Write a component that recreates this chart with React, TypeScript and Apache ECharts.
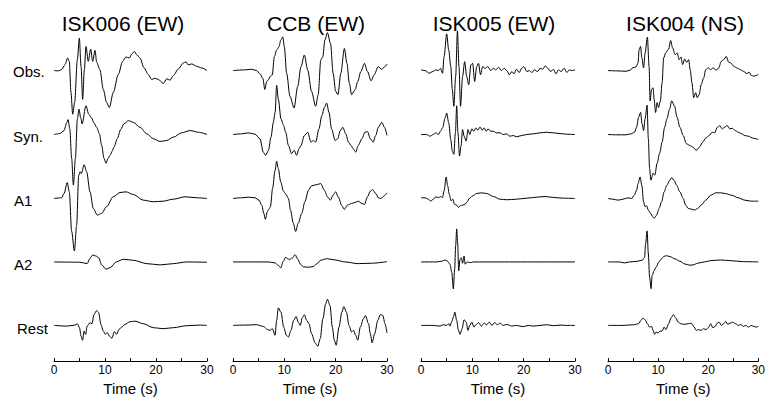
import React, { useEffect, useRef } from "react";
import * as echarts from "echarts";

const stations = ["ISK006 (EW)", "CCB (EW)", "ISK005 (EW)", "ISK004 (NS)"];
const rowLabels = ["Obs.", "Syn.", "A1", "A2", "Rest"];
const timeTicks = [0, 10, 20, 30];
const xLabel = "Time (s)";

// [time (s), amplitude] pairs
const isk006Obs = [[0,0],[0.85,-0.3],[1.5,1],[2.16,6],[2.68,12.7],[3.0,9.3],[3.33,-22],[3.66,-44],[4.05,-32],[4.58,11],[4.97,32.7],[5.3,4.3],[5.62,-29],[5.95,1],[6.27,24.3],[6.73,9.3],[7.19,21.7],[7.58,9.3],[8.04,20.3],[8.37,8.3],[9.0,1],[9.67,-19],[10.3,-32],[10.85,-37.3],[11.63,-22],[12.6,-4],[13.46,9.3],[14.1,13.7],[14.77,12.7],[15.3,17],[15.75,19.3],[16.2,16],[16.86,12.7],[17.65,2.7],[18.5,-4],[19.15,-9],[19.8,-7.7],[20.46,-9],[21.44,-13],[22.1,-8.3],[22.75,-9.7],[23.4,-5],[24.4,1.7],[25.36,7.7],[25.9,8.7],[26.3,5.7],[27.0,6.7],[27.97,4.3],[28.95,2.7],[30,0]];
const isk006Syn = [[0,0],[1.2,1],[1.96,4],[2.5,12],[2.75,15],[3.1,5.7],[3.46,-24],[3.8,-51],[4.2,-24],[4.58,15.7],[4.9,25.7],[5.23,17],[5.5,10.7],[6.27,29],[6.8,20.7],[7.3,17.3],[7.84,11.7],[8.37,7.3],[8.9,0.7],[9.35,-11],[9.8,-24],[10.2,-29],[10.6,-24],[11.0,-21],[11.37,-17],[11.76,-12.7],[12.4,-4.3],[13.07,5],[13.7,10.7],[14.6,14],[15.56,12.3],[16.86,7.3],[18.2,0.7],[19.5,-4.3],[20.8,-7],[22.1,-6],[23.4,-2.7],[25.0,1.7],[26.7,4],[28.3,2.3],[30,0]];
const isk006A1 = [[0,0],[1.5,0.7],[1.96,5],[2.6,16],[3.0,6.7],[3.46,-33],[4.0,-53],[4.44,-27],[4.84,23],[5.1,27],[5.36,25],[5.9,34],[6.4,27],[7.06,6.7],[7.7,-10],[8.5,-16.7],[9.35,-15],[10.3,-8.3],[11.6,1.7],[12.94,6],[14.1,6.7],[15.56,4],[17.5,-1.7],[19.5,-3.3],[21.4,-2.7],[23.4,-0.7],[25.7,1.7],[28,0.7],[30,0]];
const isk006A2 = [[0,0],[5.1,-0.3],[6.5,-1.7],[7.06,3.7],[7.58,7],[8.2,6],[8.76,4.3],[9.35,-3],[10.2,-7.3],[11.0,-5.7],[12.3,0.3],[13.6,2.7],[15.56,1.7],[18.2,-1.7],[20.8,-3],[23.4,-1.7],[26,0],[30,-0.3]];
const isk006Rest = [[0,0],[2.5,-0.7],[4.1,0.3],[4.6,1.7],[5.0,-2.3],[5.3,-10.7],[5.6,-15],[5.9,-5.7],[6.2,-9],[6.5,-0.7],[7.06,2.7],[7.45,1.7],[7.84,11],[8.37,15],[8.76,12.7],[9.2,1],[9.67,-5.7],[10.07,-9],[10.46,-7.3],[10.85,-10.7],[11.37,-13],[11.83,-6.3],[12.3,-9],[12.75,-4],[13.27,-1.7],[13.9,1],[14.9,3.7],[15.9,4.3],[17.5,1.7],[19.5,-2.3],[21.4,-3.3],[23.4,-2.3],[26,-0.3],[28.6,0.3],[30,0]];

const ccbObs = [[0,0],[2.3,0.7],[3.6,1.3],[4.6,0],[5.26,-3.3],[5.8,-7.7],[6.2,-19],[6.56,-11],[6.9,-9.3],[7.2,-6],[7.66,-4.3],[8.05,14],[8.5,20.7],[8.96,24],[9.3,30.7],[9.7,34],[10,24],[10.45,-2.7],[11.1,-26],[11.9,-37.7],[12.6,-16],[13.25,4],[13.9,15.7],[14.55,0.7],[15.3,-21],[16.1,-36],[16.6,-24.3],[17.1,10.7],[17.5,14],[17.9,30.7],[18.4,38.3],[19.0,27.3],[19.5,-2.7],[20,-21],[20.45,-24.3],[21.0,-2.7],[21.7,22.3],[22.2,7.3],[22.66,-12.7],[23.1,-24.3],[23.8,-19.3],[24.3,-11],[24.9,-1],[25.6,7.3],[26.2,-1],[26.9,-10.3],[27.5,-4.3],[28.3,4],[28.96,1.3],[29.6,4],[30,6.7]];
const ccbSyn = [[0,0],[1.7,0.7],[3,1.7],[4.3,0.3],[5.26,-4.3],[5.9,-17.7],[6.36,-21],[6.9,-16],[7.4,-2.7],[7.86,12.3],[8.2,22.3],[8.5,49.7],[8.83,35.7],[9.35,15.7],[9.87,9],[10.26,2.3],[10.8,-11],[11.4,-19.3],[11.95,-16],[12.4,-21],[12.86,-14.3],[13.25,-11],[13.9,-1],[14.55,2.3],[15.2,-7.7],[15.65,-6],[16.1,-7.7],[16.75,5.7],[17.3,19],[17.8,27.3],[18.25,31.7],[18.7,22.3],[19.2,5.7],[19.9,-6],[20.4,-4.3],[20.9,4],[21.4,7.3],[21.95,0.7],[22.5,-7.7],[23,-11],[23.4,-14.3],[23.9,-17.7],[24.4,-11],[25.1,-4.3],[25.7,2.3],[26.2,3],[26.75,-4.3],[27.3,-7.7],[27.8,-1],[28.3,7.3],[29,12.3],[29.5,7.3],[30,-1]];
const ccbA1 = [[0,0],[1.7,0.7],[3,1.3],[4.3,0.7],[5.06,-1.7],[5.6,-6.7],[6,-15],[6.3,-21],[6.7,-13.3],[7.0,-10.7],[7.3,-8.3],[7.7,10],[8.2,28.3],[8.5,37.7],[8.83,30],[9.3,16.7],[9.8,7.7],[10.3,4.3],[10.8,0],[11.2,-11.7],[11.75,-25],[12.2,-33.3],[12.7,-25],[13.4,-15],[14,-3.3],[14.7,8.3],[15.3,12.7],[16.3,14],[17.1,15],[17.8,8.3],[18.4,1.7],[18.96,-1.7],[19.5,3.3],[20,6.7],[20.5,1.7],[21.2,-7.3],[21.7,-11],[22.3,-6.7],[23.1,-5],[23.8,-4],[24.4,-2.7],[25.1,-5],[25.6,-6],[26.2,1.7],[26.75,7.3],[27.2,9],[27.8,5],[28.3,0.7],[28.8,0],[29.35,2.3],[30,5.7]];
const ccbA2 = [[0,0],[4.3,0],[6.9,0],[8.2,-1],[8.8,-3.3],[9.3,-6],[9.8,0.7],[10.26,4.7],[10.65,3.3],[11.0,2.3],[11.56,4],[12.1,7.3],[12.6,3],[13.1,-2],[13.7,-5],[14.7,-5.3],[15.65,-4.7],[16.3,-2],[17.1,1.7],[18.25,3.3],[19.9,2],[21.8,0],[24.4,-1.7],[27,-1.3],[30,0.3]];
const ccbRest = [[0,0],[2.3,0.3],[4.6,0.7],[5.9,-1],[6.75,-4.3],[7.2,-5],[7.66,-3.3],[8.2,-10],[8.5,5],[8.83,17.7],[9.35,13.3],[9.87,-1.7],[10.4,-10],[10.8,-11.7],[11.3,-5],[11.8,5],[12.3,9],[12.7,3.3],[13.1,0],[13.5,7.7],[13.9,10.7],[14.35,5],[14.8,1.7],[15.3,-8.3],[16,-17.7],[16.5,-21],[17,-13.3],[17.5,6.7],[18.05,21.7],[18.4,26.3],[18.9,20],[19.35,-1.7],[19.74,-15],[20.1,-20],[20.65,-1.7],[21.2,13.3],[21.6,19],[22.1,13.3],[22.6,0],[23.1,-6.7],[23.5,-5],[23.9,-10],[24.3,-15],[24.8,-1.7],[25.4,6.7],[25.8,10],[26.4,1.7],[26.75,-8.3],[27.1,-17.7],[27.6,-8.3],[28.2,5],[28.7,11],[29.2,10],[29.6,1.7],[30,-7.7]];

const isk005Obs = [[0,0.7],[0.8,0],[1.6,-2.7],[2.3,-1],[2.9,0.7],[3.4,0],[3.8,2.3],[4.2,-2.7],[4.5,14],[5,37],[5.4,20.7],[5.8,4],[6.1,-19],[6.4,-36],[6.75,-6],[7.1,40],[7.4,4],[7.7,-36],[8.1,-6],[8.5,9],[8.9,-6],[9.3,-14.3],[9.7,5.7],[10.06,7.3],[10.45,-11],[10.85,4],[11.2,7.3],[11.6,-4.3],[12,4],[12.5,2.3],[13,4],[13.6,0],[14.1,2.3],[14.6,0.7],[15.1,3.3],[15.65,0],[16.2,2.3],[16.7,0],[17.2,-4.3],[17.7,-1],[18.1,-3.3],[18.6,1.3],[19.15,-2],[19.6,2.3],[20.06,4],[20.6,-1],[21.1,0],[21.6,-2],[22.1,0.7],[22.7,-1],[23.2,2.3],[23.7,1.3],[24.2,4.7],[24.7,2.3],[25.3,-1],[25.8,1.3],[26.3,-3.3],[26.8,0.7],[27.3,-1],[27.9,2.3],[28.4,-2],[28.9,0.7],[29.4,0],[30,0.7]];
const isk005Syn = [[0,0],[1.1,0],[1.75,-1.7],[2.4,0],[2.9,1.7],[3.4,0],[3.8,3.3],[4.2,6.7],[4.7,16.7],[5.0,21.7],[5.4,11.7],[5.8,-5],[6.1,-16.7],[6.4,-20],[6.7,1.7],[6.95,29],[7.2,1.7],[7.5,-21.7],[7.8,-11.7],[8.1,5],[8.4,-1.7],[8.8,-6.7],[9.15,5],[9.5,0],[9.9,5.7],[10.3,3.3],[10.7,6.7],[11.1,4.3],[11.5,7.7],[11.9,4.3],[12.3,6.7],[12.7,3.3],[13.05,5.7],[13.6,3.3],[14.1,3.3],[14.7,1.7],[15.4,1.7],[16,0],[16.7,0.7],[17.3,-1.7],[18,-1],[18.6,-2.3],[19.6,-1],[20.6,0],[21.9,0.7],[23.2,1.7],[24.5,2.3],[25.8,1.7],[27.1,1],[28.4,0.3],[30,0]];
const isk005A1 = [[0,0.7],[0.8,0.7],[1.4,-0.7],[1.9,-2.7],[2.4,-0.7],[2.9,1.7],[3.4,0.7],[3.8,2],[4.2,1],[4.5,7.7],[4.9,21.7],[5.2,12.7],[5.5,4.3],[5.85,-2.3],[6.2,-0.7],[6.5,-5.7],[6.95,-6.7],[7.3,-9],[7.7,-7.3],[8.1,-6.7],[8.6,-5.7],[9,-3.3],[9.4,0],[10.1,2.7],[10.8,5],[11.8,5.7],[12.8,5],[14.1,2],[15.4,-0.7],[16.7,-1.3],[18.6,-0.7],[20.6,0.3],[22.5,1.3],[24.2,2],[25.8,1],[27.7,0.3],[30,0]];
const isk005A2 = [[0,0],[3.05,0],[4,0.7],[4.7,2],[5.1,1],[5.65,-2.3],[6,-10.7],[6.3,-27.3],[6.56,-7.3],[6.75,16],[6.95,33.3],[7.14,19.3],[7.34,-9],[7.6,2.7],[7.86,4.3],[8.1,-1.3],[8.4,6],[8.6,-2.3],[9,0],[9.5,-0.7],[10.2,0],[15.4,0],[30,0]];
const isk005Rest = [[0,0],[2.4,0],[3.7,-0.7],[4.35,0.7],[5,0],[5.4,1.7],[5.65,-0.7],[6,4],[6.3,8.3],[6.6,13.3],[6.95,5],[7.3,-5],[7.6,-9],[8,-3.3],[8.4,5.7],[8.8,3.3],[9.15,-5],[9.5,0],[9.9,3.3],[10.3,-1.7],[10.7,0.7],[11.2,2.7],[11.75,-0.7],[12.3,2.3],[12.8,0.7],[13.3,3.3],[13.8,0],[14.35,2.7],[14.9,0.7],[15.4,2.3],[16,0],[16.7,1],[17.7,-0.7],[18.6,0],[19.9,-1.3],[20.9,0],[21.9,-0.7],[23.2,0],[24.5,0.7],[25.8,-0.3],[27.1,0.3],[28.4,0],[30,0]];

const isk004Obs = [[0,0],[1.7,-0.3],[3.6,-0.7],[4.4,0.3],[4.9,2.7],[5.6,3.7],[6,7.7],[6.2,21],[6.5,24.3],[6.75,12.7],[7.1,2.7],[7.4,17.7],[7.86,33.7],[8.2,4.3],[8.4,-30.7],[8.7,-19],[9,-17.3],[9.2,-29],[9.5,-42.3],[9.8,-32.3],[10.1,-37.3],[10.45,-30.7],[10.8,-12.3],[11.1,12.7],[11.56,18.3],[12.1,21.7],[12.5,30.3],[12.9,22.7],[13.4,16],[13.8,17.7],[14.2,11],[14.55,13.7],[14.9,6],[15.3,11.7],[15.7,8.3],[16.1,11],[16.4,1],[16.75,-12.3],[17.1,-27.3],[17.5,-22.3],[17.8,-27.3],[18.2,-24],[18.6,-14],[19.1,-7.3],[19.5,1],[20,2.7],[20.5,1],[21,2.7],[21.6,0.3],[22.1,2.7],[22.6,9.3],[23.1,11],[23.6,14.3],[24.1,8.3],[24.5,7.7],[25.1,4.3],[25.7,2.7],[26.4,1],[27,-0.7],[27.7,-3],[28.2,-1.7],[28.6,-5],[29.1,-5.7],[29.5,-5],[30,-4]];
const isk004Syn = [[0,0],[1.7,-0.3],[3.6,-0.3],[4.6,0.7],[5.3,2.3],[5.7,7.3],[6.1,17.3],[6.5,22.3],[6.8,10.7],[7.1,4],[7.4,15.7],[7.8,29.7],[8.05,-4.3],[8.3,-34.3],[8.55,-46],[9,-39],[9.35,-41],[9.8,-29],[10.3,-19],[10.8,-7.7],[11.3,7.3],[11.75,15.7],[12.3,25.7],[12.7,34],[13.25,29],[13.8,17.3],[14.35,7.3],[15,-1],[15.65,-9.3],[16.3,-11],[16.95,-12.7],[17.6,-16],[18.25,-12.7],[18.9,-7.7],[19.5,-3.7],[20.2,-1],[20.8,2.3],[21.3,1.7],[21.8,7.3],[22.3,9],[22.8,5.7],[23.25,7.3],[23.8,9],[24.3,5.7],[24.8,6.3],[25.4,4],[26,2.3],[26.7,0.7],[27.3,-1],[28,-1.7],[29,-3.7],[30,-5]];
const isk004A1 = [[0,0],[1,-0.7],[2,-1.7],[3,-0.7],[4,0.7],[4.7,0],[5.26,3.3],[5.7,8.3],[6,15],[6.4,21.7],[6.75,13.3],[7.1,-3.3],[7.4,-8.3],[7.7,-7.3],[8.05,-11.7],[8.5,-15],[8.9,-18.3],[9.2,-20],[9.7,-16.7],[10.2,-10],[10.7,-3.3],[11.2,6.7],[11.75,13.3],[12.3,18.3],[12.7,21],[13.2,18.3],[13.7,13.3],[14.35,6.7],[15,0],[15.5,-6.7],[16,-10],[16.6,-10.7],[17.3,-11.7],[17.9,-10],[18.6,-6.7],[19.5,-1.7],[20.5,3.3],[21.5,5.7],[22.5,5.7],[23.4,5],[24.7,3.3],[26,0.7],[27.3,-1.7],[28.6,-2.7],[30,-2.7]];
const isk004A2 = [[0,0],[2.3,0],[3.3,-1],[4.3,0],[5.9,0.7],[6.9,2],[7.3,4.7],[7.5,18],[7.8,31.3],[8.05,8],[8.3,-15.3],[8.6,-27],[8.8,-13.7],[9.2,-8.7],[9.6,-5.3],[10.1,-0.3],[10.65,3],[11.2,5.7],[11.7,6.3],[12.4,5.3],[13.4,3],[14.35,0.7],[15.3,-2],[16.3,-3.3],[16.95,-3],[17.9,-1.3],[19.2,0],[20.5,1.3],[22.5,2],[24.4,1.3],[27,0.3],[30,0]];
const isk004Rest = [[0,0],[3,0],[5.26,0.7],[6.1,1.7],[6.56,5],[7,7.3],[7.4,5.7],[7.86,1.7],[8.3,-1.7],[8.7,-1],[9,-5],[9.3,-9],[9.6,-6.7],[10,-7.7],[10.4,-5.7],[10.8,-5.7],[11.2,-1.7],[11.56,-4.3],[12.1,1.7],[12.6,7.7],[13.05,10.7],[13.5,7.7],[14,3.3],[14.55,1.7],[15.2,1],[16,1.7],[16.6,2.3],[17.1,-1],[17.6,-5],[18.05,-4.3],[18.6,-5],[19.1,-3.3],[19.6,-4.3],[20.1,-1.7],[20.5,1.7],[20.9,-2.3],[21.4,-1],[21.8,2.3],[22.2,3.3],[22.6,0],[23.1,1.7],[23.5,4],[23.9,1],[24.4,2.3],[24.9,3.3],[25.45,1.7],[26,0],[26.5,1],[27,-1],[27.5,0],[28.05,-1.7],[28.6,0],[29.1,-1],[29.6,-1.7],[30,-1]];

const traces = [
  [isk006Obs, isk006Syn, isk006A1, isk006A2, isk006Rest],
  [ccbObs, ccbSyn, ccbA1, ccbA2, ccbRest],
  [isk005Obs, isk005Syn, isk005A1, isk005A2, isk005Rest],
  [isk004Obs, isk004Syn, isk004A1, isk004A2, isk004Rest],
];

// layout (pixels)
const colLeft = [54, 233, 421, 608];
const colWidth = [153, 154, 154, 154];
const titleX = [123, 316, 494, 685];
const gridTop = 20;
const gridBottom = 37;
const plotH = 401 - gridTop - gridBottom;
const rowHeight = [293, 228.5, 164, 100, 36];
const rowLabelX = [13, 13, 14, 14, 17];
const rowLabelY = [71, 136, 200, 264, 328];

const FONT = "'Liberation Sans', Arial, Helvetica, sans-serif";

export default function App() {
  const ref = useRef<HTMLDivElement>(null);
  useEffect(() => {
    if (!ref.current) return;
    const chart = echarts.init(ref.current, null, { renderer: "svg" });
    const grid = colLeft.map((l, i) => ({ left: l, width: colWidth[i], top: gridTop, bottom: gridBottom }));
    const xAxis = colLeft.map((_, i) => ({
      type: "value",
      gridIndex: i,
      min: 0,
      max: 30,
      interval: 5,
      axisLine: { show: true, onZero: false, lineStyle: { color: "#000", width: 1 } },
      axisTick: { show: true, inside: true, length: 3, lineStyle: { color: "#000", width: 1 } },
      axisLabel: {
        formatter: (v: number) => (timeTicks.indexOf(v) >= 0 ? String(v) : ""),
        fontSize: 12,
        color: "#000",
        fontFamily: FONT,
        margin: 3,
      },
      splitLine: { show: false },
      name: xLabel,
      nameLocation: "middle",
      nameGap: 18,
      nameTextStyle: { fontSize: 15, color: "#000", fontFamily: FONT },
    }));
    const yAxis = colLeft.map((_, i) => ({ type: "value", gridIndex: i, min: 0, max: plotH, show: false }));
    const series: any[] = [];
    traces.forEach((col, c) =>
      col.forEach((tr, r) =>
        series.push({
          type: "line",
          name: stations[c] + " " + rowLabels[r],
          xAxisIndex: c,
          yAxisIndex: c,
          data: tr.map(([t, a]) => [t, rowHeight[r] + a]),
          showSymbol: false,
          smooth: 0.3,
          smoothMonotone: "x",
          clip: false,
          silent: true,
          lineStyle: { color: "#000", width: 1 },
        })
      )
    );
    const graphic: any[] = [];
    stations.forEach((s, i) =>
      graphic.push({
        type: "text",
        x: titleX[i],
        y: 23,
        style: { text: s, font: `21px ${FONT}`, fill: "#000", textAlign: "center", textVerticalAlign: "middle" },
      })
    );
    rowLabels.forEach((s, r) =>
      graphic.push({
        type: "text",
        x: rowLabelX[r],
        y: rowLabelY[r],
        style: { text: s, font: `15px ${FONT}`, fill: "#000", textAlign: "left", textVerticalAlign: "middle" },
      })
    );
    chart.setOption({
      animation: false,
      backgroundColor: "#fff",
      grid,
      xAxis,
      yAxis,
      series,
      graphic,
    });
    return () => chart.dispose();
  }, []);
  return <div ref={ref} style={{ position: "fixed", left: 0, top: 0, width: 768, height: 401 }} />;
}
